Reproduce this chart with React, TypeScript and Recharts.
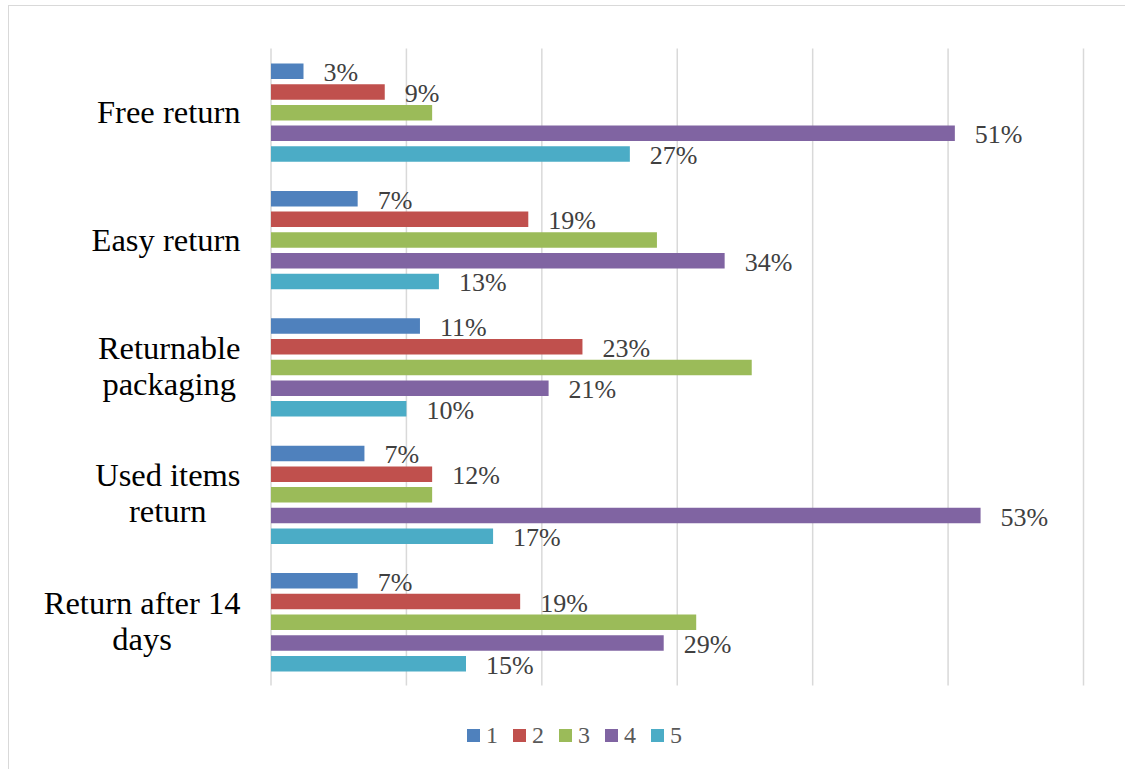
import { BarChart, Bar, XAxis, YAxis, CartesianGrid, Legend, LabelList } from 'recharts';

const categories = [
  'Free return',
  'Easy return',
  'Returnable\npackaging',
  'Used items\nreturn',
  'Return after 14\ndays',
];

// bar lengths (axis 0–60)
const series1 = [2.4, 6.4, 11.0, 6.9, 6.4];
const series2 = [8.4, 19.0, 23.0, 11.9, 18.4];
const series3 = [11.9, 28.5, 35.5, 11.9, 31.4];
const series4 = [50.5, 33.5, 20.5, 52.4, 29.0];
const series5 = [26.5, 12.4, 10.0, 16.4, 14.4];

// data labels printed next to the bars (series 3 has none)
const labels1 = [3, 7, 11, 7, 7];
const labels2 = [9, 19, 23, 12, 19];
const labels4 = [51, 34, 21, 53, 29];
const labels5 = [27, 13, 10, 17, 15];

const xTicks = [0, 10, 20, 30, 40, 50, 60];
const seriesNames = ['1', '2', '3', '4', '5'];
const COLORS = ['#4f81bd', '#c0504d', '#9bbb59', '#8064a2', '#4bacc6'];

const FONT = "'Liberation Serif', 'Times New Roman', serif";

const data = categories.map((name, i) => ({
  name,
  s1: series1[i],
  s2: series2[i],
  s3: series3[i],
  s4: series4[i],
  s5: series5[i],
  l1: labels1[i],
  l2: labels2[i],
  l4: labels4[i],
  l5: labels5[i],
}));

let ctx: CanvasRenderingContext2D | null = null;
const textWidth = (s: string, font: string) => {
  if (!ctx) ctx = document.createElement('canvas').getContext('2d');
  if (!ctx) return s.length * 14;
  ctx.font = font;
  return ctx.measureText(s).width;
};

const CategoryTick = (props: any) => {
  const { x, y, payload } = props;
  const lines: string[] = String(payload.value).split('\n');
  if (lines.length === 1) {
    return (
      <text x={x} y={y} textAnchor="end" dominantBaseline="central" fontFamily={FONT} fontSize={32.5} fill="#000">
        {lines[0]}
      </text>
    );
  }
  const maxW = Math.max(...lines.map((l) => textWidth(l, `32.5px ${FONT}`)));
  const cx = x - maxW / 2;
  return (
    <text textAnchor="middle" dominantBaseline="central" fontFamily={FONT} fontSize={32.5} fill="#000">
      {lines.map((l, i) => (
        <tspan key={i} x={cx} y={y - 19 + i * 36}>
          {l}
        </tspan>
      ))}
    </text>
  );
};

// x axis ticks are only used for the grid, nothing is drawn for them
const NoTick = () => <g />;

const renderValueLabel = (props: any) => {
  const { x, y, width, height, value } = props;
  if (value == null) return null;
  return (
    <text
      x={x + width + 20}
      y={y + height / 2 + 1.5}
      dominantBaseline="central"
      fontFamily={FONT}
      fontSize={26}
      fill="#404040"
    >
      {`${value}%`}
    </text>
  );
};

const LegendContent = () => (
  <div style={{ display: 'flex', alignItems: 'center', height: 28 }}>
    {seriesNames.map((n, i) => (
      <div key={n} style={{ display: 'flex', alignItems: 'center', marginRight: 15 }}>
        <span style={{ width: 13, height: 13, background: COLORS[i], marginRight: 6, display: 'inline-block' }} />
        <span style={{ fontFamily: FONT, fontSize: 24, color: '#595959', lineHeight: '28px' }}>{n}</span>
      </div>
    ))}
  </div>
);

export default function App() {
  const barKeys = ['s1', 's2', 's3', 's4', 's5'];
  const labelKeys: (string | null)[] = ['l1', 'l2', null, 'l4', 'l5'];
  return (
    <div
      style={{
        position: 'absolute',
        left: 0,
        top: 0,
        width: 1125,
        height: 769,
        overflow: 'hidden',
        background: '#fff',
      }}
    >
      <div
        style={{
          position: 'absolute',
          left: 8,
          top: 5,
          width: 1200,
          height: 900,
          border: '1.5px solid #d9d9d9',
        }}
      />
      <div style={{ position: 'absolute', left: 0, top: 0 }}>
        <BarChart
          width={1125}
          height={769}
          data={data}
          layout="vertical"
          margin={{ top: 48.5, right: 41.5, bottom: 83.5, left: 0 }}
          barSize={15.5}
          barGap={5.2}
        >
          <CartesianGrid horizontal={false} stroke="#d9d9d9" strokeWidth={1.5} />
          <XAxis
            type="number"
            domain={[0, 60]}
            ticks={xTicks}
            tick={<NoTick />}
            axisLine={false}
            tickLine={false}
            height={0}
            interval={0}
          />
          <YAxis
            type="category"
            dataKey="name"
            width={271}
            axisLine={false}
            tickLine={false}
            tickSize={6}
            tickMargin={24.5}
            tick={<CategoryTick />}
            interval={0}
          />
          {barKeys.map((k, i) => (
            <Bar key={k} dataKey={k} name={seriesNames[i]} fill={COLORS[i]} isAnimationActive={false}>
              {labelKeys[i] && <LabelList dataKey={labelKeys[i] as string} content={renderValueLabel} />}
            </Bar>
          ))}
          <Legend
            layout="horizontal"
            verticalAlign="middle"
            align="center"
            content={<LegendContent />}
            wrapperStyle={{ top: 721, left: 467, width: 300 }}
          />
        </BarChart>
      </div>
    </div>
  );
}
